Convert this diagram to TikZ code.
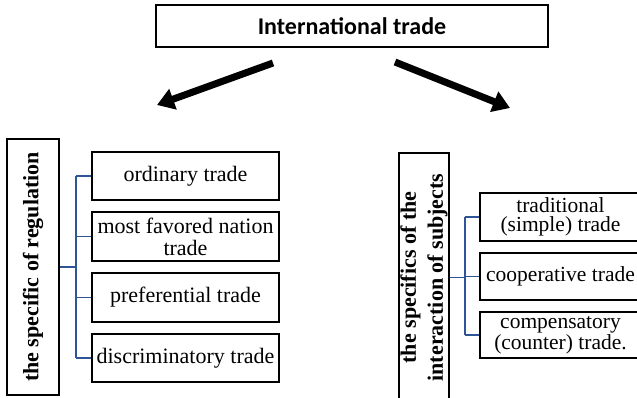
\documentclass[tikz,border=0pt]{standalone}
\usepackage{fontspec}
\setmainfont{Liberation Serif}
\newfontfamily\calib{Carlito}
\usetikzlibrary{arrows.meta}
\definecolor{connblue}{RGB}{47,85,151}
\tikzset{
  box/.style={draw=black, line width=1.6pt, align=center, inner sep=1pt,
    font=\fontsize{22}{22}\selectfont},
  vbox/.style={box, rotate=90, font=\bfseries\fontsize{22}{27}\selectfont},
  rbox/.style={box, font=\fontsize{21.5}{19.5}\selectfont},
  conn/.style={draw=connblue, line width=1.5pt},
  bigarrow/.style={line width=7pt, -{Triangle[length=17pt,width=21pt]}}
}
\begin{document}
\begin{tikzpicture}[x=1pt,y=-1pt]
\useasboundingbox (0,0) rectangle (637,398);
\clip (0,0) rectangle (637,398);
% top
\node[box, minimum width=392pt, minimum height=42pt, font=\calib\bfseries\fontsize{24}{24}\selectfont] (top) at (352,26) {International trade};
\coordinate (la) at (273,63);
\coordinate (lb) at (157,105);
\coordinate (ra) at (395,62);
\coordinate (rb) at (510,108);
\draw[bigarrow] (la) -- (lb);
\draw[bigarrow] (ra) -- (rb);
% left group
\node[vbox, minimum width=256pt, minimum height=52pt] (L) at (33,267) {the specific of regulation};
\node[box, minimum width=187pt, minimum height=48pt] (a1) at (185.5,176) {ordinary trade};
\node[box, minimum width=187pt, minimum height=49pt] (a2) at (185.5,236.5) {most favored nation\\trade};
\node[box, minimum width=187pt, minimum height=49pt] (a3) at (185.5,297.5) {preferential trade};
\node[box, minimum width=187pt, minimum height=48pt] (a4) at (185.5,358) {discriminatory trade};
\coordinate (lj) at (76,267);
\draw[conn] (L.south) -- (lj);
\draw[conn] (lj |- a1.west) -- (lj |- a4.west);
\foreach \n in {a1,a2,a3,a4} \draw[conn] (lj |- \n.west) -- (\n.west);
% right group
\node[vbox, minimum width=249pt, minimum height=50pt] (R) at (424,277.5) {the specifics of the\\interaction of subjects};
\node[rbox, minimum width=161pt, minimum height=48pt] (b1) at (560.5,217) {traditional\\(simple) trade};
\node[rbox, minimum width=161pt, minimum height=47pt] (b2) at (560.5,276.5) {cooperative trade};
\node[rbox, minimum width=161pt, minimum height=46pt] (b3) at (560.5,335) {compensatory\\(counter) trade.};
\coordinate (rj) at (465,277.5);
\draw[conn] (R.south) -- (rj);
\draw[conn] (rj |- b1.west) -- (rj |- b3.west);
\foreach \n in {b1,b2,b3} \draw[conn] (rj |- \n.west) -- (\n.west);
\end{tikzpicture}
\end{document}
